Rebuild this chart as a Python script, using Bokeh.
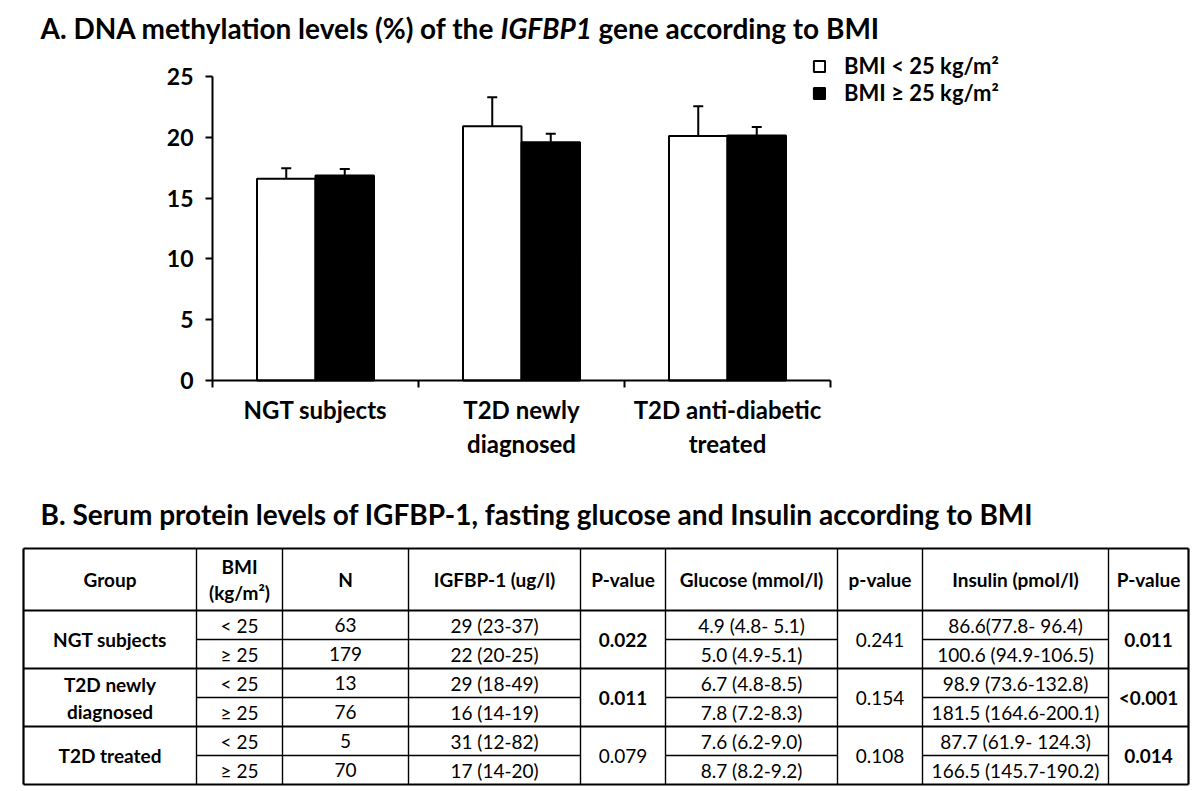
import numpy as np
from bokeh.plotting import figure
from bokeh.models import (Range1d, FixedTicker, Whisker, TeeHead, ColumnDataSource,
                          Legend, LegendItem, Label, LinearAxis)
from bokeh.embed import file_html
from bokeh.resources import INLINE
from bokeh.core.properties import value

FONT = "Lato"

# ---------------- Panel A data ----------------
categories = ["NGT subjects", "T2D newly\ndiagnosed", "T2D anti-diabetic\ntreated"]
series_labels = ["BMI < 25 kg/m²", "BMI ≥ 25 kg/m²"]
meth_low = [16.6, 20.9, 20.1]
sem_low = [0.85, 2.4, 2.45]
meth_high = [16.85, 19.6, 20.15]
sem_high = [0.55, 0.7, 0.7]
y_ticks = [0, 5, 10, 15, 20, 25]

# ---------------- Panel B data ----------------
table_header = ["Group", "BMI\n(kg/m²)", "N", "IGFBP-1 (ug/l)", "P-value",
                "Glucose (mmol/l)", "p-value", "Insulin (pmol/l)", "P-value"]
groups = ["NGT subjects", "T2D newly\ndiagnosed", "T2D treated"]
bmi_classes = ["< 25", "≥ 25"]
n_subjects = [[63, 179], [13, 76], [5, 70]]
igfbp1 = [["29 (23-37)", "22 (20-25)"], ["29 (18-49)", "16 (14-19)"], ["31 (12-82)", "17 (14-20)"]]
p_igfbp1 = ["0.022", "0.011", "0.079"]
p_igfbp1_bold = [True, True, False]
glucose = [["4.9 (4.8- 5.1)", "5.0 (4.9-5.1)"], ["6.7 (4.8-8.5)", "7.8 (7.2-8.3)"], ["7.6 (6.2-9.0)", "8.7 (8.2-9.2)"]]
p_glucose = ["0.241", "0.154", "0.108"]
p_glucose_bold = [False, False, False]
insulin = [["86.6(77.8- 96.4)", "100.6 (94.9-106.5)"], ["98.9 (73.6-132.8)", "181.5 (164.6-200.1)"],
           ["87.7 (61.9- 124.3)", "166.5 (145.7-190.2)"]]
p_insulin = ["0.011", "<0.001", "0.014"]
p_insulin_bold = [True, True, True]

# ---------------- layout (page pixels) ----------------
W, H = 1200, 790
AX_L, AX_R = 212, 830      # x-axis extent of the bar chart
AX_B, AX_T = 380, 76       # y = 0 and y = 25
ppx = (AX_R - AX_L) / 3.0
ppy = (AX_B - AX_T) / 25.0

x_range = Range1d(-AX_L / ppx, 3 + (W - AX_R) / ppx)
y_range = Range1d(-(H - AX_B) / ppy, 25 + AX_T / ppy)

p = figure(width=W, height=H, x_range=x_range, y_range=y_range,
           toolbar_location=None, output_backend="svg", min_border=0,
           x_axis_type=None, y_axis_type=None)
p.xgrid.visible = False
p.ygrid.visible = False
p.outline_line_color = None
p.extra_x_ranges = {"px": Range1d(0, W)}
p.extra_y_ranges = {"py": Range1d(H, 0)}

# ================= Panel A: bar chart =================
centers = np.arange(len(categories)) + 0.5
bw = 0.284
src_low = ColumnDataSource(dict(x=centers - bw / 2, top=meth_low,
                                upper=np.array(meth_low) + np.array(sem_low)))
src_high = ColumnDataSource(dict(x=centers + bw / 2, top=meth_high,
                                 upper=np.array(meth_high) + np.array(sem_high)))
r_low = p.vbar(x="x", top="top", bottom=0, width=bw, source=src_low,
               fill_color="white", line_color="black", line_width=2)
r_high = p.vbar(x="x", top="top", bottom=0, width=bw, source=src_high,
                fill_color="black", line_color="black", line_width=2)
for src in (src_low, src_high):
    p.add_layout(Whisker(base="x", lower="top", upper="upper", source=src, dimension="height",
                         line_color="black", line_width=2, lower_head=None,
                         upper_head=TeeHead(size=10, line_width=2, line_color="black")))

ya = LinearAxis(fixed_location=0, bounds=(0, 25), ticker=FixedTicker(ticks=y_ticks))
ya.axis_line_width = 2
ya.major_tick_line_width = 2
ya.major_tick_in = 0
ya.major_tick_out = 7
ya.minor_tick_out = 0
ya.major_label_standoff = 12
ya.major_label_text_font = FONT
ya.major_label_text_font_style = "bold"
ya.major_label_text_font_size = "23px"
ya.major_label_text_color = "black"
p.add_layout(ya, "left")

xa = LinearAxis(fixed_location=0, bounds=(0, 3),
                ticker=FixedTicker(ticks=list(centers), minor_ticks=[0, 1, 2, 3]))
xa.major_label_overrides = {float(c): lab for c, lab in zip(centers, categories)}
xa.axis_line_width = 2
xa.major_tick_in = 0
xa.major_tick_out = 0
xa.minor_tick_in = 0
xa.minor_tick_out = 7
xa.minor_tick_line_width = 2
xa.minor_tick_line_color = "black"
xa.major_label_standoff = 7
xa.major_label_text_font = FONT
xa.major_label_text_font_style = "bold"
xa.major_label_text_font_size = "24px"
xa.major_label_text_color = "black"
p.add_layout(xa, "below")

legend = Legend(items=[LegendItem(label=series_labels[0], renderers=[r_low]),
                       LegendItem(label=series_labels[1], renderers=[r_high])],
                location=(812, H - 106), orientation="vertical",
                glyph_width=14, glyph_height=14, label_standoff=18, spacing=0,
                padding=0, margin=0, border_line_color=None, background_fill_alpha=0,
                label_text_font=FONT, label_text_font_style="bold",
                label_text_font_size="22px", label_text_color="black")
p.add_layout(legend)

title_kw = dict(x_range_name="px", y_range_name="py", text_font=FONT, text_font_size="28px",
                text_baseline="middle", text_color="black")
p.add_layout(Label(x=40, y=27, text="A. DNA methylation levels (%) of the",
                   text_font_style="bold", **title_kw))
p.add_layout(Label(x=500, y=27, text="IGFBP1", text_font_style="bold italic", **title_kw))
p.add_layout(Label(x=598, y=27, text="gene according to BMI", text_font_style="bold", **title_kw))

# ================= Panel B: table =================
p.add_layout(Label(x=40, y=513,
                   text="B. Serum protein levels of IGFBP-1, fasting glucose and Insulin according to BMI",
                   text_font_style="bold", **title_kw))

col_edges = [23, 196, 282, 408, 580, 665, 837, 922, 1108, 1188]
top_y, head_y, bot_y = 548, 610, 784
row_h = (bot_y - head_y) / 6.0

thick = dict(x0=[], y0=[], x1=[], y1=[])
thin = dict(x0=[], y0=[], x1=[], y1=[])

def seg(d, a, b, c, e):
    d["x0"].append(a); d["y0"].append(b); d["x1"].append(c); d["y1"].append(e)

for i, xe in enumerate(col_edges):
    seg(thick if i in (0, len(col_edges) - 1) else thin, xe, top_y, xe, bot_y)
for yy in [top_y, head_y, head_y + 2 * row_h, head_y + 4 * row_h, bot_y]:
    seg(thick, col_edges[0], yy, col_edges[-1], yy)
for g in range(3):
    yy = head_y + (2 * g + 1) * row_h
    for a, b in [(1, 4), (5, 6), (7, 8)]:
        seg(thin, col_edges[a], yy, col_edges[b], yy)
p.segment(x0="x0", y0="y0", x1="x1", y1="y1", source=ColumnDataSource(thick),
          line_color="black", line_width=2.2, x_range_name="px", y_range_name="py")
p.segment(x0="x0", y0="y0", x1="x1", y1="y1", source=ColumnDataSource(thin),
          line_color="black", line_width=1.4, x_range_name="px", y_range_name="py")

cells = dict(x=[], y=[], text=[], style=[])

def add_cell(col, yc, text, bold, line_gap=26):
    xc = (col_edges[col] + col_edges[col + 1]) / 2.0
    lines = str(text).split("\n")
    n = len(lines)
    for k, ln in enumerate(lines):
        cells["x"].append(xc)
        cells["y"].append(yc + (k - (n - 1) / 2.0) * line_gap)
        cells["text"].append(ln)
        cells["style"].append("bold" if bold else "normal")

hy = (top_y + head_y) / 2.0
for c, h in enumerate(table_header):
    add_cell(c, hy, h, True, line_gap=26)

for g in range(3):
    gy = head_y + (2 * g + 1) * row_h
    add_cell(0, gy, groups[g], True, line_gap=27)
    add_cell(4, gy, p_igfbp1[g], p_igfbp1_bold[g])
    add_cell(6, gy, p_glucose[g], p_glucose_bold[g])
    add_cell(8, gy, p_insulin[g], p_insulin_bold[g])
    for r in range(2):
        ry = head_y + (2 * g + r + 0.5) * row_h
        add_cell(1, ry, bmi_classes[r], False)
        add_cell(2, ry, n_subjects[g][r], False)
        add_cell(3, ry, igfbp1[g][r], False)
        add_cell(5, ry, glucose[g][r], False)
        add_cell(7, ry, insulin[g][r], False)

p.text(x="x", y="y", text="text", text_font_style="style", source=ColumnDataSource(cells),
       text_font=value(FONT), text_font_size="19px", text_align="center",
       text_baseline="middle", text_color="black", x_range_name="px", y_range_name="py")

open("out.html", "w").write(file_html(p, INLINE))
